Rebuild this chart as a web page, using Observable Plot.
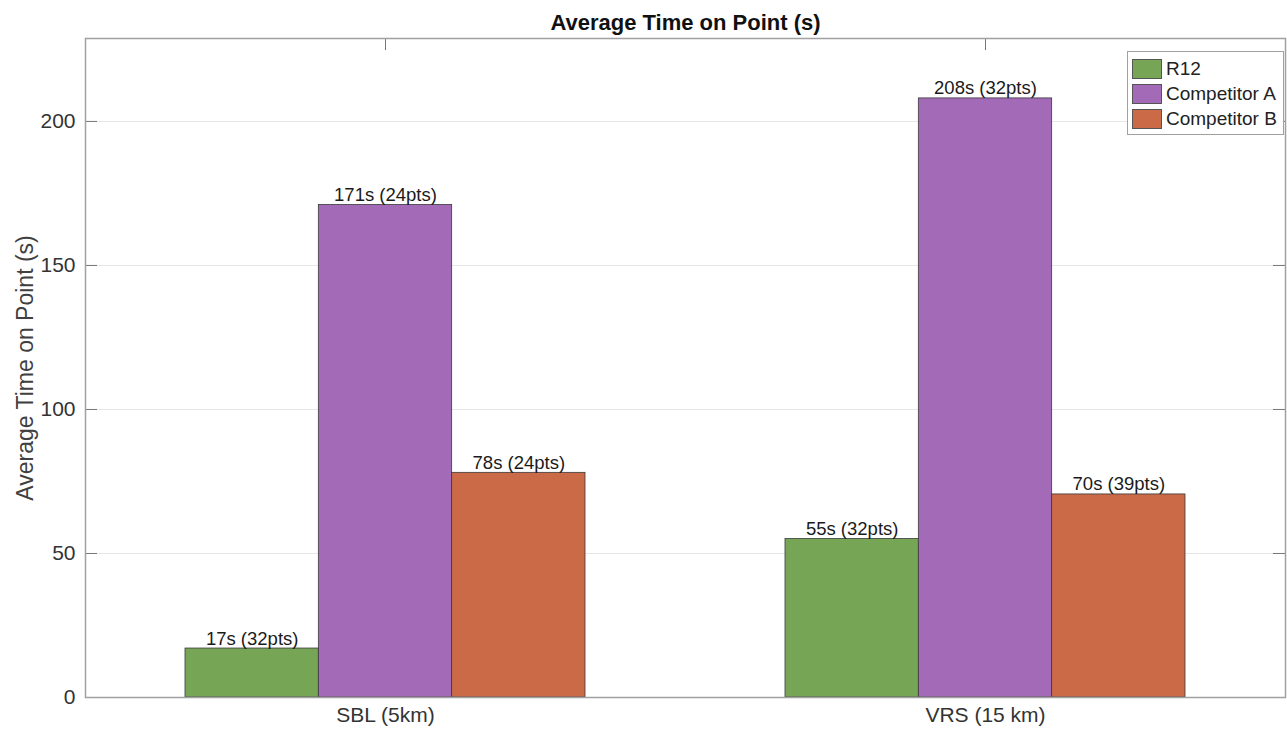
<!DOCTYPE html>
<html>
<head>
<meta charset="utf-8">
<script src="https://cdn.jsdelivr.net/npm/d3@7"></script>
<script src="https://cdn.jsdelivr.net/npm/@observablehq/plot@0.6"></script>
<style>
  html, body { margin: 0; padding: 0; background: #fff; }
  #wrap { position: relative; width: 1287px; height: 730px; font-family: "Liberation Sans", Arial, sans-serif; }
  #legend { position: absolute; left: 1127px; top: 51px; width: 157px; background: #fff; border: 1px solid #a0a0a0; padding: 4px 0 3px 4px; box-sizing: border-box; }
  .row { display: flex; align-items: center; height: 25px; font-size: 19px; color: #222; }
  .sw { width: 30px; height: 20px; border: 1px solid #555; box-sizing: border-box; margin-right: 4px; }
</style>
</head>
<body>
<div id="wrap"></div>
<script>
// ---- data ----
const categories = ["SBL (5km)", "VRS (15 km)"];
const series = ["R12", "Competitor A", "Competitor B"];
const r12Values = [17, 55];
const compAValues = [171, 208];
const compBValues = [78, 70.5];
const barLabels = [
  ["17s (32pts)", "55s (32pts)"],
  ["171s (24pts)", "208s (32pts)"],
  ["78s (24pts)", "70s (39pts)"]
];
const yTicks = [0, 50, 100, 150, 200];
const colors = ["#77a556", "#a36ab7", "#cb6a47"];
const title = "Average Time on Point (s)";
const yLabel = "Average Time on Point (s)";

// ---- layout constants ----
const barWidth = 2 / 3 / 3;      // grouped bar width (category units)
const xDomain = [0.5, 2.5];
const yDomain = [0, 228.8];
const tickLenX = 0.02;            // inward tick length in x units
const tickLenY = 4.2;             // inward tick length in y units

const allValues = [r12Values, compAValues, compBValues];
const rows = [];
series.forEach((s, k) => {
  categories.forEach((c, i) => {
    const center = (i + 1) + (k - 1) * barWidth;
    rows.push({
      series: s, category: c, value: allValues[k][i],
      x1: center - barWidth / 2, x2: center + barWidth / 2, xc: center,
      label: barLabels[k][i]
    });
  });
});

const chart = Plot.plot({
  width: 1287,
  height: 730,
  marginLeft: 85,
  marginRight: 2,
  marginTop: 38,
  marginBottom: 33,
  style: { fontFamily: "Liberation Sans, Arial, sans-serif", background: "#fff" },
  x: { domain: xDomain, ticks: [1, 2] },
  y: { domain: yDomain, ticks: yTicks },
  color: { domain: series, range: colors },
  marks: [
    Plot.gridY(yTicks.filter(d => d > 0), { stroke: "#e6e6e6", strokeOpacity: 1, strokeWidth: 1 }),
    Plot.rectY(rows, { x1: "x1", x2: "x2", y1: 0, y2: "value", fill: "series", stroke: "#3a3a3a", strokeWidth: 0.8 }),
    Plot.text(rows, { x: "xc", y: "value", text: "label", dy: -4, lineAnchor: "bottom", fontSize: 18.5, fill: "#1a1a1a" }),
    // inward ticks (MATLAB style)
    Plot.ruleY(yTicks.filter(d => d > 0), { x1: xDomain[0], x2: xDomain[0] + tickLenX, stroke: "#777" }),
    Plot.ruleY(yTicks.filter(d => d > 0), { x1: xDomain[1] - tickLenX, x2: xDomain[1], stroke: "#777" }),
    Plot.ruleX([1, 2], { y1: yDomain[1], y2: yDomain[1] - tickLenY, stroke: "#777" }),
    Plot.frame({ stroke: "#a0a0a0", strokeWidth: 1.5 }),
    Plot.axisY({ ticks: yTicks, tickSize: 0, tickPadding: 10, fontSize: 21, fill: "#333", label: null }),
    Plot.axisX({ ticks: [1, 2], tickSize: 0, tickPadding: 10, fontSize: 21, fill: "#333", label: null,
      tickFormat: d => categories[d - 1] }),
    Plot.text([yLabel], { frameAnchor: "left", rotate: -90, dx: -60, fontSize: 23, fill: "#404040", textAnchor: "middle" }),
    Plot.text([title], { frameAnchor: "top", lineAnchor: "middle", dy: -16, fontSize: 22, fontWeight: "bold", fill: "#111" })
  ]
});

const wrap = document.getElementById("wrap");
wrap.appendChild(chart);

const legend = document.createElement("div");
legend.id = "legend";
series.forEach((s, k) => {
  const row = document.createElement("div");
  row.className = "row";
  const sw = document.createElement("div");
  sw.className = "sw";
  sw.style.background = colors[k];
  const t = document.createElement("span");
  t.textContent = s;
  row.appendChild(sw);
  row.appendChild(t);
  legend.appendChild(row);
});
wrap.appendChild(legend);
</script>
</body>
</html>
